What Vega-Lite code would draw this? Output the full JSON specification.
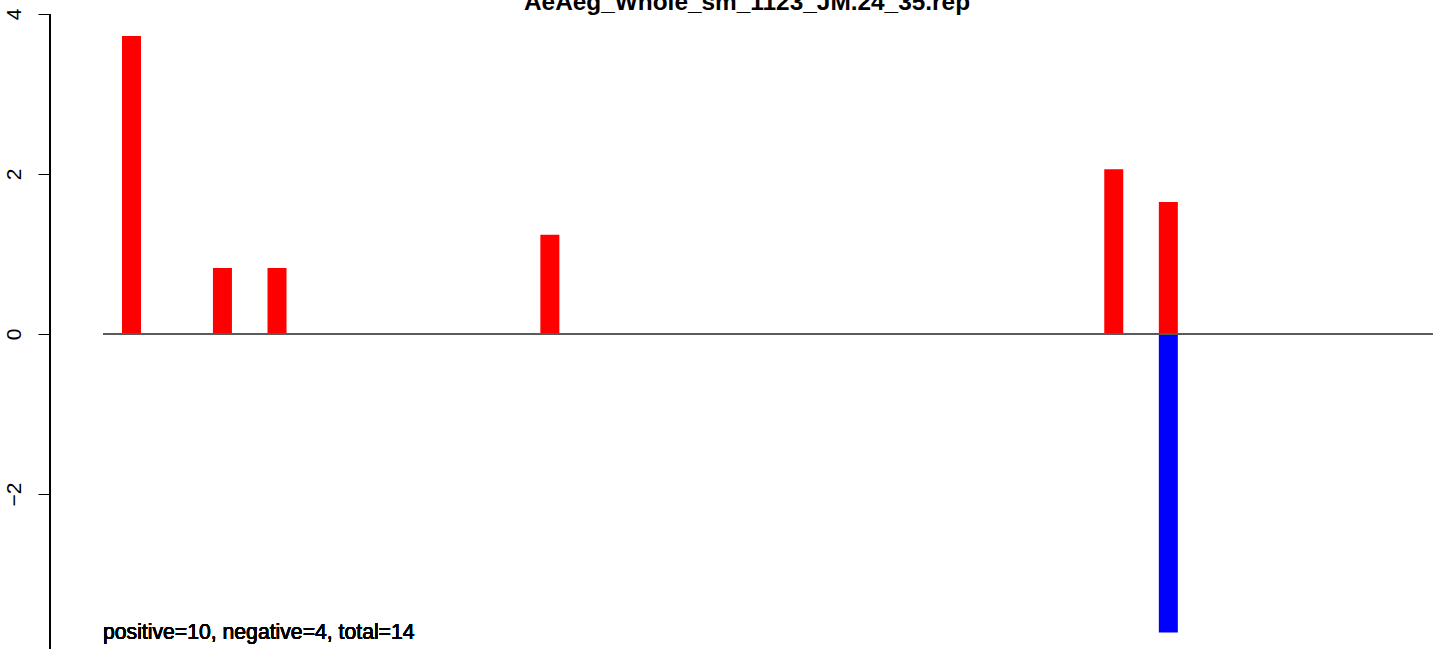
{
  "$schema": "https://vega.github.io/schema/vega-lite/v6.json",
  "width": 1394,
  "height": 649,
  "autosize": {"type": "none"},
  "padding": {"left": 50, "top": 0, "right": 0, "bottom": 0},
  "background": "white",
  "config": {"view": {"stroke": null}, "font": "Liberation Sans"},
  "title": {
    "text": "AeAeg_Whole_sm_1123_JM.24_35.rep",
    "anchor": "middle",
    "orient": "top",
    "baseline": "alphabetic",
    "offset": -34,
    "font": "Liberation Sans",
    "fontSize": 24.4,
    "fontWeight": "bold",
    "color": "black"
  },
  "data": {
    "values": [
      {"pos": 1, "value": 3.725, "sign": "positive"},
      {"pos": 6, "value": 0.825, "sign": "positive"},
      {"pos": 9, "value": 0.825, "sign": "positive"},
      {"pos": 24, "value": 1.24, "sign": "positive"},
      {"pos": 55, "value": 2.06, "sign": "positive"},
      {"pos": 58, "value": 1.65, "sign": "positive"},
      {"pos": 58, "value": -3.73, "sign": "negative"}
    ]
  },
  "layer": [
    {
      "mark": {"type": "bar", "width": 19},
      "encoding": {
        "x": {"field": "pos", "type": "quantitative", "scale": {"domain": [-3.48, 73.155], "nice": false, "zero": false, "padding": 0}, "axis": null},
        "y": {"field": "value", "type": "quantitative", "scale": {"domain": [-3.9375, 4.175], "nice": false, "zero": false, "padding": 0},
          "axis": {"values": [-4, -2, 0, 2, 4], "format": "d", "domain": false, "grid": false, "ticks": true, "tickSize": 12, "tickColor": "black", "tickWidth": 1,
            "labelAngle": 270, "labelAlign": "center", "labelBaseline": "alphabetic", "labelPadding": 18,
            "labelFont": "Liberation Sans", "labelFontSize": 21, "labelColor": "black", "title": null, "labelOverlap": false, "labelFlush": false}},
        "y2": {"datum": 0},
        "color": {"field": "sign", "type": "nominal", "scale": {"domain": ["positive", "negative"], "range": ["#ff0000", "#0000ff"]}, "legend": null}
      }
    },
    {
      "mark": {"type": "rule", "color": "#5a5a5a", "strokeWidth": 1.2},
      "encoding": {
        "x": {"datum": -0.567, "type": "quantitative"},
        "x2": {"datum": 72.53},
        "y": {"datum": 0, "type": "quantitative"}
      }
    },
    {
      "mark": {"type": "rule", "color": "black", "strokeWidth": 1},
      "encoding": {
        "x": {"datum": -3.48, "type": "quantitative"},
        "y": {"datum": -4, "type": "quantitative"},
        "y2": {"datum": 4}
      }
    },
    {
      "mark": {"type": "text", "align": "left", "baseline": "alphabetic", "font": "Liberation Sans", "fontSize": 21.2, "fontWeight": "normal", "color": "black"},
      "encoding": {
        "x": {"datum": -0.567, "type": "quantitative"},
        "y": {"datum": -3.8125, "type": "quantitative"},
        "text": {"value": "positive=10, negative=4, total=14"}
      }
    }
  ]
}
